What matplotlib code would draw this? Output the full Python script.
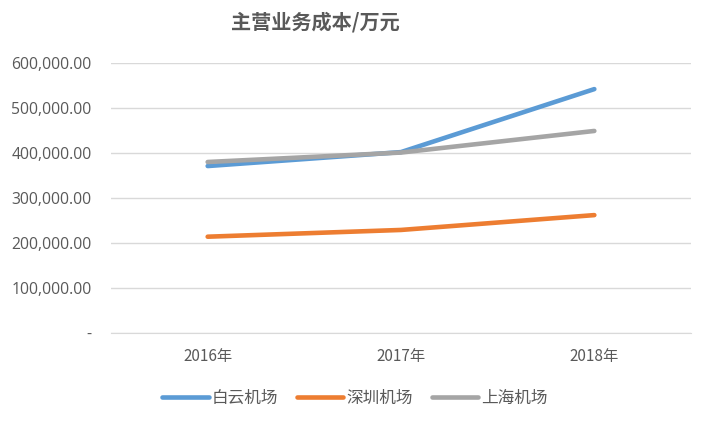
import matplotlib
matplotlib.use("Agg")
import matplotlib.pyplot as plt
from matplotlib.ticker import FuncFormatter

plt.rcParams['font.family'] = ['Noto Sans CJK SC', 'DejaVu Sans']

years = ['2016年', '2017年', '2018年']
baiyun = [371000, 402000, 542000]
shenzhen = [214000, 229000, 262000]
shanghai = [380000, 401000, 449000]
series_names = ['白云机场', '深圳机场', '上海机场']
colors = ['#5B9BD5', '#ED7D31', '#A5A5A5']

fig = plt.figure(figsize=(7.03, 4.24), dpi=100)
ax = fig.add_axes([111/703, 1-333/424, 580/703, 270/424])

x = list(range(len(years)))
for vals, name, c in zip([baiyun, shenzhen, shanghai], series_names, colors):
    ax.plot(x, vals, color=c, lw=3.3, solid_capstyle='round', label=name)

ax.set_xlim(-0.5, len(years) - 0.5)
ax.set_ylim(0, 600000)
ax.set_yticks(range(0, 600001, 100000))
ax.yaxis.set_major_formatter(FuncFormatter(lambda v, p: '-' if v == 0 else f'{v:,.2f}'))
ax.set_xticks(x)
ax.set_xticklabels(years)
ax.grid(axis='y', color='#d9d9d9', lw=1)
ax.set_axisbelow(True)
for s in ['top', 'right', 'left']:
    ax.spines[s].set_visible(False)
ax.spines['bottom'].set_color('#d9d9d9')
ax.tick_params(axis='both', length=0, colors='#595959', labelsize=11)
ax.tick_params(axis='y', pad=14)
ax.tick_params(axis='x', pad=11)
for lbl in ax.get_yticklabels():
    lbl.set_fontfamily(['Open Sans', 'DejaVu Sans'])
    lbl.set_fontsize(11.3)

fig.text(315/703, 1-22/424, '主营业务成本/万元', ha='center', va='center',
         fontsize=14.5, fontweight='bold', color='#595959')

leg = fig.legend(loc='center', bbox_to_anchor=(355/703, 1-398/424), ncol=3,
                 frameon=False, fontsize=12, handlelength=2.8, columnspacing=1.1,
                 handletextpad=0.2, labelcolor='#595959')

fig.savefig('out.png', dpi=100)
